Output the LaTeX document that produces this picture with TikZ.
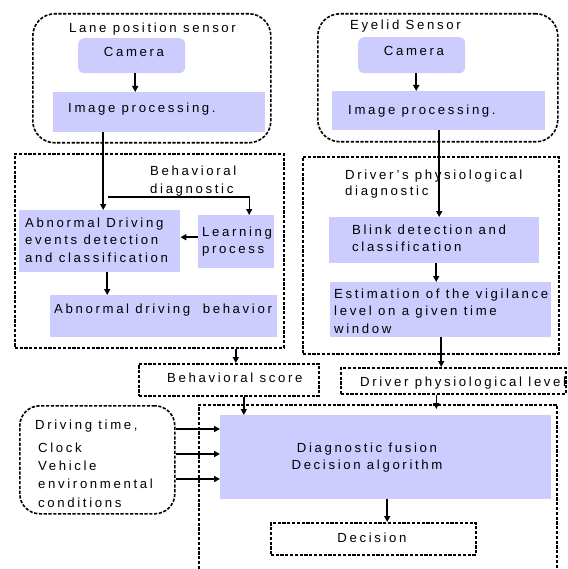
\documentclass[tikz,border=0pt]{standalone}
\usepackage{fontspec}
\setmainfont[LetterSpace=20]{Liberation Sans}
\usetikzlibrary{arrows.meta}
\definecolor{boxblue}{RGB}{204,204,255}
\tikzset{
  dline/.style={draw, dash pattern=on 3.2pt off 1.6pt, line width=1.6pt},
  dbox/.style={dline, inner sep=0pt, anchor=north west},
  blk/.style={fill=boxblue, inner sep=0pt, anchor=north west},
  lbl/.style={inner sep=0pt, anchor=base west, align=left, font=\fontsize{13.2}{17.5}\selectfont},
  clbl/.style={lbl, anchor=base, align=center},
  arr/.style={line width=1.5pt, -{Triangle[length=6pt,width=6pt]}},
  thinarr/.style={line width=1pt, -{Triangle[length=6pt,width=6pt]}},
}
\newcommand\mybox[6]{\node[#1, minimum width=#5pt, minimum height=#6pt] (#2) at (#3,#4) {};}
\begin{document}
\begin{tikzpicture}[x=1pt,y=-1pt]
\useasboundingbox (0,0) rectangle (567,569);
% dashed containers
\mybox{dbox, rounded corners=22pt}{lanebox}{32}{13}{238}{129}
\mybox{dbox, rounded corners=22pt}{eyebox}{317}{13}{240}{128}
\mybox{dbox}{bdbox}{14}{153}{269}{194}
\mybox{dbox}{pdbox}{302}{156}{256}{197}
\mybox{dbox}{bscore}{138}{363}{180}{32}
\mybox{dbox}{dpl}{340}{367}{225}{26}
\mybox{dbox, rounded corners=20pt}{drive}{19}{405}{155}{108}
\mybox{dbox}{decision}{270}{522}{205}{32}
\coordinate (fl) at (199,569);
\coordinate (fr) at (557,569);
\coordinate (ftop) at (557,405);
\draw[dline] (fl) |- (ftop) -- (fr);
% filled blocks
\mybox{blk, rounded corners=6pt}{cam1}{78}{38}{107}{35}
\mybox{blk}{img1}{53}{92}{212}{40}
\mybox{blk, rounded corners=6pt}{cam2}{358}{37}{107}{36}
\mybox{blk}{img2}{332}{91}{213}{39}
\mybox{blk}{abn}{19}{210}{161}{62}
\mybox{blk}{learn}{198}{215}{76}{53}
\mybox{blk}{adb}{50}{295}{227}{42}
\mybox{blk}{blink}{329}{217}{210}{46}
\mybox{blk}{est}{330}{282}{221}{55}
\mybox{blk}{fusion}{220}{415}{331}{84}
% labels (multi-line nodes are placed by their last baseline)
\node[lbl] (t1) at (69,33) {Lane position sensor};
\node[clbl] (t2) at (134,57) {Camera};
\node[lbl] (t3) at (68,113) {Image processing.};
\node[lbl] (t4) at (350,30) {Eyelid Sensor};
\node[clbl] (t5) at (414,56) {Camera};
\node[lbl] (t6) at (348,115) {Image processing.};
\node[lbl] (t7) at (150,193.5) {Behavioral\\diagnostic};
\node[lbl] (t8) at (25,262) {Abnormal Driving\\events detection\\and classification};
\node[lbl] (t9) at (202,253.5) {Learning\\process};
\node[lbl] (t10) at (54,313) {Abnormal driving\ \ behavior};
\node[lbl, font=\fontsize{13.2}{16.5}\selectfont] (t11) at (345,195.5) {Driver’s physiological\\diagnostic};
\node[lbl] (t12) at (352,251.5) {Blink detection and\\classification};
\node[lbl] (t13) at (334,333) {Estimation of the vigilance\\level on a given time\\window};
\node[lbl] (t14) at (167,382) {Behavioral score};
\node[lbl] (t15) at (360,386) {Driver physiological level};
\node[clbl] (t16) at (367,469.5) {Diagnostic fusion\\Decision algorithm};
\node[clbl] (t17) at (372,542) {Decision};
\node[lbl] (t18) at (35,429) {Driving time,};
\node[lbl, font=\fontsize{13.2}{18.3}\selectfont] (t19) at (38,507) {Clock\\Vehicle\\environmental\\conditions};
% connectors
\draw[arr] ([xshift=3.5pt]cam1.south) -- ([xshift=3.5pt]cam1.south |- img1.north);
\draw[arr] ([xshift=4.5pt]cam2.south) -- ([xshift=4.5pt]cam2.south |- img2.north);
\draw[arr] ([xshift=3.5pt]abn.north |- img1.south) -- ([xshift=3.5pt]abn.north);
\coordinate (bdstart) at (108,197);
\draw[thinarr] (bdstart) -| ([xshift=13pt]learn.north);
\draw[arr] ([yshift=4.5pt]learn.west) -- ([yshift=4.5pt]learn.west -| abn.east);
\draw[arr] ([xshift=7.5pt]abn.south) -- ([xshift=7.5pt]abn.south |- adb.north);
\draw[arr] ([xshift=7pt]bscore.north |- bdbox.south) -- ([xshift=7pt]bscore.north);
\draw[arr] ([xshift=15pt]bscore.south) -- ([xshift=15pt]bscore.south |- fusion.north);
\draw[arr] ([xshift=5pt]blink.north |- img2.south) -- ([xshift=5pt]blink.north);
\draw[arr] ([xshift=2pt]blink.south) -- ([xshift=2pt]blink.south |- est.north);
\draw[arr] ([xshift=0.5pt]est.south) -- ([xshift=0.5pt]est.south |- dpl.north);
\draw[arr, shorten >=6pt] ([xshift=-17pt]dpl.south) -- ([xshift=-17pt]dpl.south |- fusion.north);
\coordinate (r1) at (0,429);
\coordinate (r2) at (0,454);
\coordinate (r3) at (0,479);
\draw[arr] (drive.east |- r1) -- (fusion.west |- r1);
\draw[arr] (drive.east |- r2) -- (fusion.west |- r2);
\draw[arr] (drive.east |- r3) -- (fusion.west |- r3);
\draw[arr] ([xshift=1.5pt]fusion.south) -- ([xshift=1.5pt]fusion.south |- decision.north);
\end{tikzpicture}
\end{document}
